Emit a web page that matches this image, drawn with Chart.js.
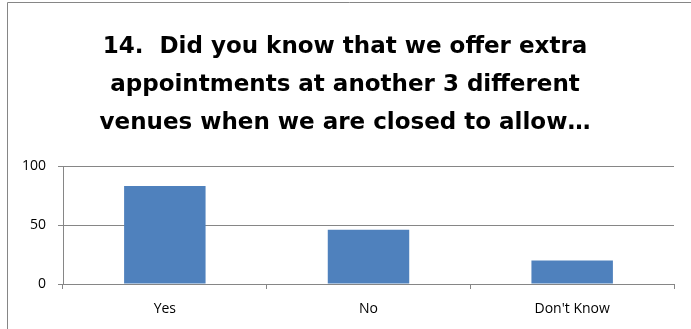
<!DOCTYPE html>
<html>
<head>
<meta charset="utf-8">
<script src="https://cdn.jsdelivr.net/npm/chart.js@4/dist/chart.umd.min.js"></script>
<style>
  html, body { margin: 0; padding: 0; background: #fff; }
  #wrap { width: 691px; height: 329px; position: relative; }
</style>
</head>
<body>
<div id="wrap"><canvas id="surveyChart" width="691" height="329"></canvas></div>
<script>
const titleLines = [
    '14.  Did you know that we offer extra',
    'appointments at another 3 different',
    'venues when we are closed to allow\u2026'
];
const categories = ['Yes', 'No', "Don't Know"];
const responses = [83, 46, 20];
const yTicks = [0, 50, 100];

const gridGrey = '#868686';

// frame around the chart (only the top and left edges fall inside the canvas)
const framePlugin = {
    id: 'frame',
    beforeDraw(chart) {
        const ctx = chart.ctx;
        ctx.save();
        ctx.strokeStyle = gridGrey;
        ctx.lineWidth = 1;
        ctx.beginPath();
        ctx.moveTo(7.5, chart.height);
        ctx.lineTo(7.5, 2.5);
        ctx.lineTo(chart.width, 2.5);
        ctx.stroke();
        ctx.restore();
    }
};

new Chart(document.getElementById('surveyChart').getContext('2d'), {
    type: 'bar',
    data: {
        labels: categories,
        datasets: [{
            data: responses,
            backgroundColor: '#4F81BD',
            borderWidth: 0,
            barPercentage: 0.4,
            categoryPercentage: 1
        }]
    },
    options: {
        responsive: false,
        animation: false,
        layout: { padding: { left: 16, right: 17, top: 0, bottom: 0 } },
        plugins: {
            legend: { display: false },
            tooltip: { enabled: false },
            title: {
                display: true,
                text: titleLines,
                color: '#000',
                font: { family: 'DejaVu Sans', size: 23, weight: 'bold', lineHeight: 38 / 23 },
                padding: { top: 28, bottom: 24 }
            }
        },
        scales: {
            x: {
                offset: true,
                grid: {
                    offset: true,
                    drawOnChartArea: false,
                    color: gridGrey,
                    tickLength: 5
                },
                border: { color: gridGrey },
                ticks: {
                    color: '#000',
                    padding: 12,
                    font: { family: 'Open Sans', size: 14 }
                },
                afterFit: s => { s.height = 45; }
            },
            y: {
                min: 0,
                max: 100,
                afterBuildTicks: s => { s.ticks = yTicks.map(v => ({ value: v })); },
                grid: { color: gridGrey, tickLength: 5 },
                border: { color: gridGrey },
                ticks: {
                    color: '#000',
                    padding: 12,
                    font: { family: 'Open Sans', size: 14 }
                },
                afterFit: s => { s.width = 47; }
            }
        }
    },
    plugins: [framePlugin]
});
</script>
</body>
</html>
